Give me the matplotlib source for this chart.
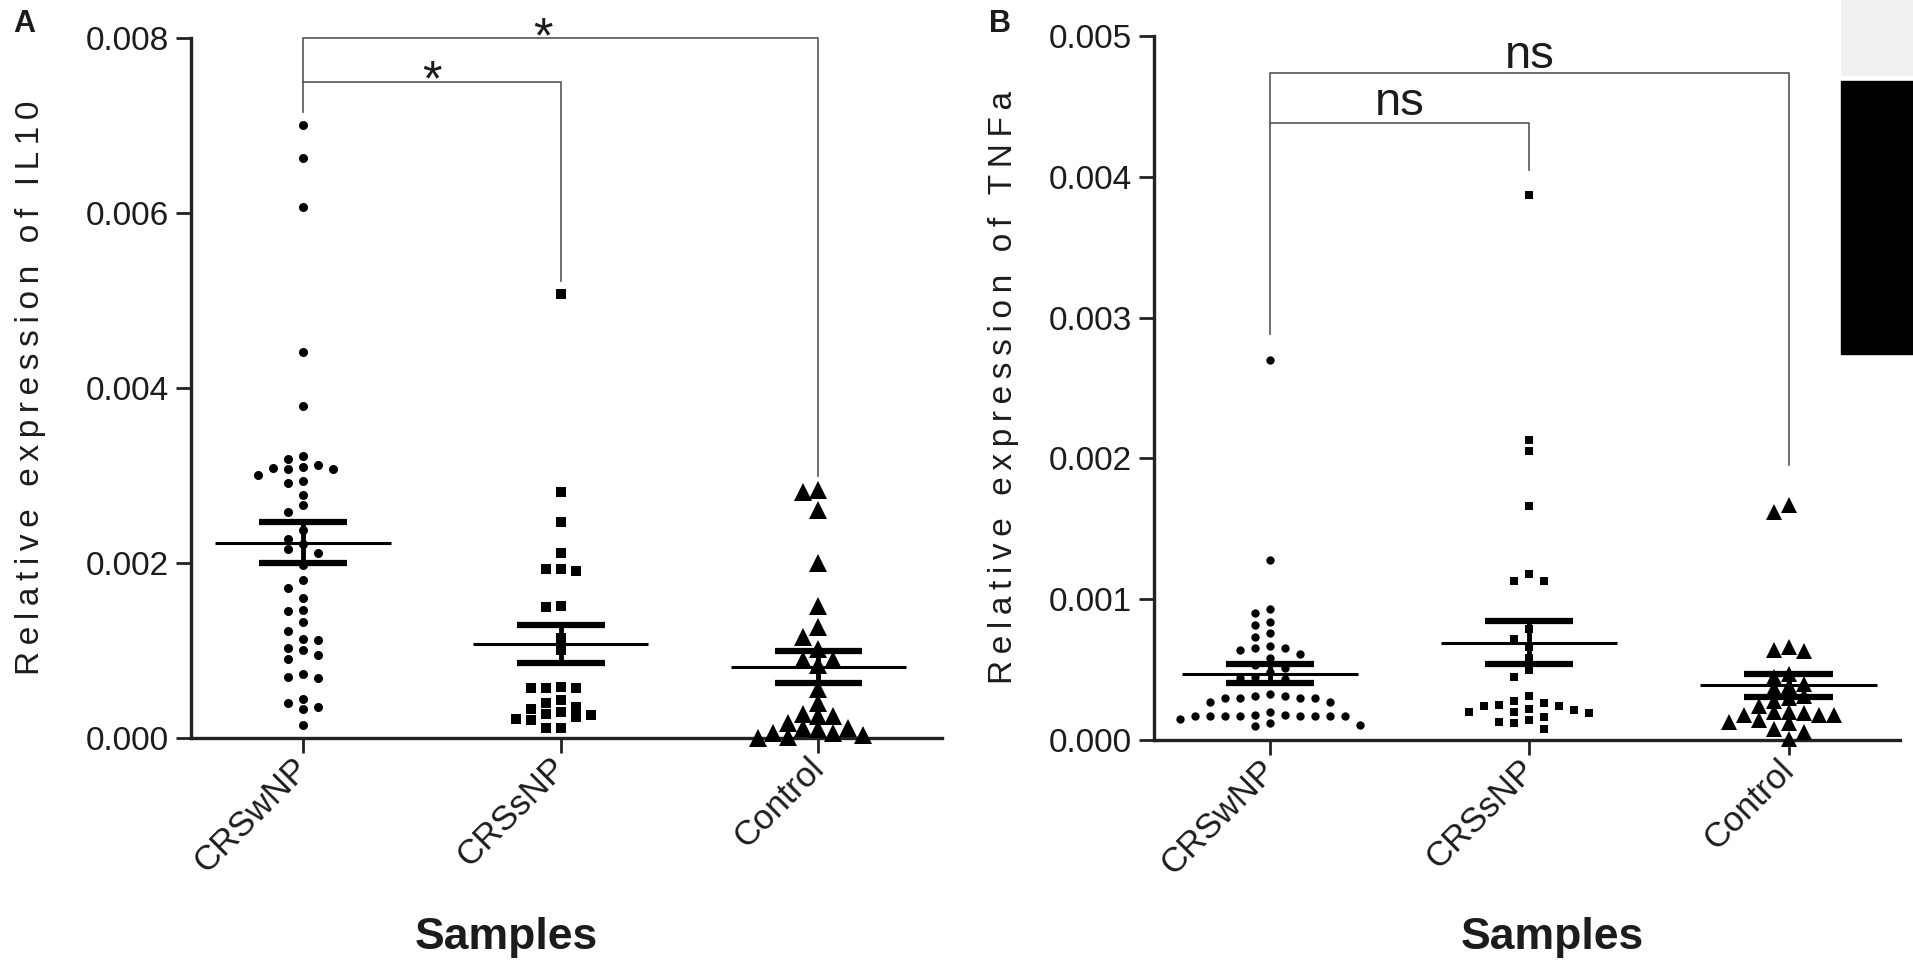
import numpy as np
import matplotlib
matplotlib.use('Agg')
import matplotlib.pyplot as plt
from matplotlib.patches import Rectangle
from matplotlib.transforms import ScaledTranslation

plt.rcParams['font.family'] = ['Liberation Sans', 'DejaVu Sans']

groups = ['CRSwNP', 'CRSsNP', 'Control']

# values, in units of 1e-3
il10_crswnp = [7.01, 6.63, 6.07, 4.41, 3.79, 3.22, 3.19, 3.10, 3.08, 3.07, 3.09, 3.12,
               3.01, 2.94, 2.92, 2.78, 2.66, 2.58, 2.38, 2.28, 2.22, 2.16, 2.12, 1.98,
               1.81, 1.71, 1.60, 1.46, 1.45, 1.33, 1.22, 1.13, 1.12, 1.03, 1.01, 0.95,
               0.90, 0.73, 0.70, 0.69, 0.45, 0.36, 0.33, 0.40, 0.15]
il10_crssnp = [5.07, 2.81, 2.47, 2.12, 1.93, 1.91, 1.93, 1.50, 1.51, 1.14, 1.01, 0.57,
               0.57, 0.58, 0.57, 0.44, 0.27, 0.40, 0.22, 0.36, 0.21, 0.30, 0.33, 0.24,
               0.26, 0.11, 0.11]
il10_control = [2.81, 2.84, 2.61, 2.00, 1.51, 1.27, 1.16, 1.02, 0.89, 0.89, 0.83, 0.56,
                0.40, 0.27, 0.25, 0.25, 0.17, 0.10, 0.12, 0.12, 0.06, 0.03, 0.06, 0.00,
                0.01]

tnf_crswnp = [2.70, 1.28, 0.93, 0.90, 0.84, 0.82, 0.76, 0.73, 0.65, 0.64, 0.61, 0.65,
              0.67, 0.58, 0.53, 0.51, 0.48, 0.45, 0.44, 0.43, 0.33, 0.31, 0.30, 0.30,
              0.30, 0.30, 0.27, 0.27, 0.31, 0.20, 0.17, 0.17, 0.18, 0.17, 0.17, 0.17,
              0.18, 0.17, 0.17, 0.17, 0.15, 0.12, 0.11, 0.10]
tnf_crssnp = [3.87, 2.13, 2.05, 1.66, 1.18, 1.13, 1.13, 0.79, 0.72, 0.66, 0.58, 0.50,
              0.45, 0.31, 0.26, 0.24, 0.24, 0.25, 0.28, 0.20, 0.22, 0.16, 0.20, 0.21,
              0.19, 0.14, 0.12, 0.13, 0.08]
tnf_control = [1.67, 1.62, 0.66, 0.63, 0.64, 0.47, 0.45, 0.40, 0.38, 0.37, 0.31, 0.30,
               0.28, 0.24, 0.20, 0.18, 0.18, 0.20, 0.18, 0.19, 0.14, 0.13, 0.12, 0.08,
               0.06, 0.01]

il10_sig = ['*', '*']
tnf_sig = ['ns', 'ns']

TXT = '#1c1c1c'
W, H = 1913, 974


def fx(px):
    return px / W


def fy(py):
    return 1 - py / H


def spaced(s):
    # the original labels are letter-spaced
    return '\u2009'.join(s)


def swarm(ax, vals, xc, slot_px, min_dy):
    # simple beeswarm: put each point in the first free column slot
    px_x = ax.transData.transform((1, 0))[0] - ax.transData.transform((0, 0))[0]
    order = np.argsort(vals)[::-1]
    placed = []
    xs = np.zeros(len(vals))
    slots = [0]
    for k in range(1, 15):
        slots += [-k, k]
    for i in order:
        y = ax.transData.transform((0, vals[i]))[1]
        for k in slots:
            if all(s != k or abs(yy - y) >= min_dy for s, yy in placed):
                break
        placed.append((k, y))
        xs[i] = xc + k * slot_px / px_x
    return xs


def panel(fig, rect, xlim, data, ymax, ystep, ylabel, legs_gap, marker_sizes, tri_dy):
    ax = fig.add_axes(rect)
    ax.set_xlim(*xlim)
    ax.set_ylim(0, ymax)
    for s in ['top', 'right']:
        ax.spines[s].set_visible(False)
    for s in ['left', 'bottom']:
        ax.spines[s].set_linewidth(2.4)
        ax.spines[s].set_color('#222222')
    ax.tick_params(length=11, width=2, color='#222222', direction='out',
                   labelsize=24, labelcolor=TXT, pad=5)
    ax.tick_params(axis='x', pad=3, labelsize=25)
    ax.set_yticks(np.arange(0, ymax + 1e-9, ystep))
    ax.yaxis.set_major_formatter(matplotlib.ticker.FormatStrFormatter('%.3f'))
    ax.set_xticks(range(3))
    ax.set_xticklabels(groups, rotation=45, ha='right', va='top',
                       rotation_mode='anchor')
    shift = ScaledTranslation(-0.11, 0.06, fig.dpi_scale_trans)
    for lab in ax.get_xticklabels():
        lab.set_transform(lab.get_transform() + shift)
    ax.set_ylabel(spaced(ylabel), fontsize=24, color=TXT)

    markers = ['o', 's', '^']
    for i, vals in enumerate(data):
        v = np.array(vals) * 1e-3
        dy = tri_dy if markers[i] == '^' else 10
        xs = swarm(ax, v, i, 15, dy)
        ax.plot(xs, v, linestyle='none', marker=markers[i], ms=marker_sizes[i],
                color='black', mew=0, clip_on=False, zorder=3)
        m = v.mean()
        se = v.std(ddof=1) / np.sqrt(len(v))
        ax.hlines(m, i - 0.34, i + 0.34, color='black', lw=2.2, zorder=4)
        ax.hlines([m - se, m + se], i - 0.17, i + 0.17, color='black', lw=4.5,
                  zorder=4)
        ax.vlines(i, m - se, m + se, color='black', lw=3.5, zorder=4)

    tops = [max(d) * 1e-3 + legs_gap for d in data]
    return ax, tops


fig = plt.figure(figsize=(W / 100, H / 100), dpi=100)

# panel A
axA, topsA = panel(fig, [fx(191), fy(738), fx(942) - fx(191), fy(38) - fy(738)],
                   (-0.435, 2.48), [il10_crswnp, il10_crssnp, il10_control],
                   0.008, 0.002, 'Relative expression of IL10', 0.00015,
                   [6.5, 6.5, 12.5], 13)
yA = [0.0075, 0.008]
axA.plot([0, 0, 1, 1], [topsA[0], yA[0], yA[0], topsA[1]], color='#555555',
         lw=1.2, clip_on=False)
axA.plot([0, 0, 2, 2], [yA[0], yA[1], yA[1], topsA[2]], color='#555555',
         lw=1.2, clip_on=False)
axA.text(0.5, yA[0] - 0.00016, il10_sig[0], ha='center', va='baseline',
         fontsize=36, color=TXT)
axA.text(0.93, yA[1] - 0.00016, il10_sig[1], ha='center', va='baseline',
         fontsize=36, color=TXT, clip_on=False)
axA.yaxis.set_label_coords(-0.193, 0.5)

# panel B
axB, topsB = panel(fig, [fx(1154), fy(740), fx(1900) - fx(1154), fy(36) - fy(740)],
                   (-0.448, 2.43), [tnf_crswnp, tnf_crssnp, tnf_control],
                   0.005, 0.001, 'Relative expression of TNFa', 0.00018,
                   [6, 6, 12], 11)
yB = [0.00438, 0.00474]
axB.plot([0, 0, 1, 1], [topsB[0], yB[0], yB[0], topsB[1]], color='#555555',
         lw=1.2, clip_on=False)
axB.plot([0, 0, 2, 2], [yB[0], yB[1], yB[1], topsB[2] + 0.0001], color='#555555',
         lw=1.2, clip_on=False)
axB.text(0.5, yB[0] + 0.00006, tnf_sig[0], ha='center', va='baseline',
         fontsize=34, color=TXT)
axB.text(1.0, yB[1] + 0.00003, tnf_sig[1], ha='center', va='baseline',
         fontsize=34, color=TXT, clip_on=False)
axB.yaxis.set_label_coords(-0.181, 0.5)

fig.text(fx(506), fy(937), 'Samples', ha='center', va='center', fontsize=32,
         fontweight='bold', color=TXT)
fig.text(fx(1552), fy(937), 'Samples', ha='center', va='center', fontsize=32,
         fontweight='bold', color=TXT)
fig.text(fx(24), fy(24), 'A', ha='center', va='center', fontsize=22,
         fontweight='bold', color=TXT)
fig.text(fx(1000), fy(24), 'B', ha='center', va='center', fontsize=22,
         fontweight='bold', color=TXT)

# scanned block in the top right corner
fig.add_artist(Rectangle((fx(1841), fy(354)), fx(W) - fx(1841), fy(81) - fy(354),
                         transform=fig.transFigure, color='black'))
fig.add_artist(Rectangle((fx(1841), fy(76)), fx(W) - fx(1841), fy(0) - fy(76),
                         transform=fig.transFigure, color='#f0f0f0', lw=0))

fig.savefig('out.png', dpi=100)
